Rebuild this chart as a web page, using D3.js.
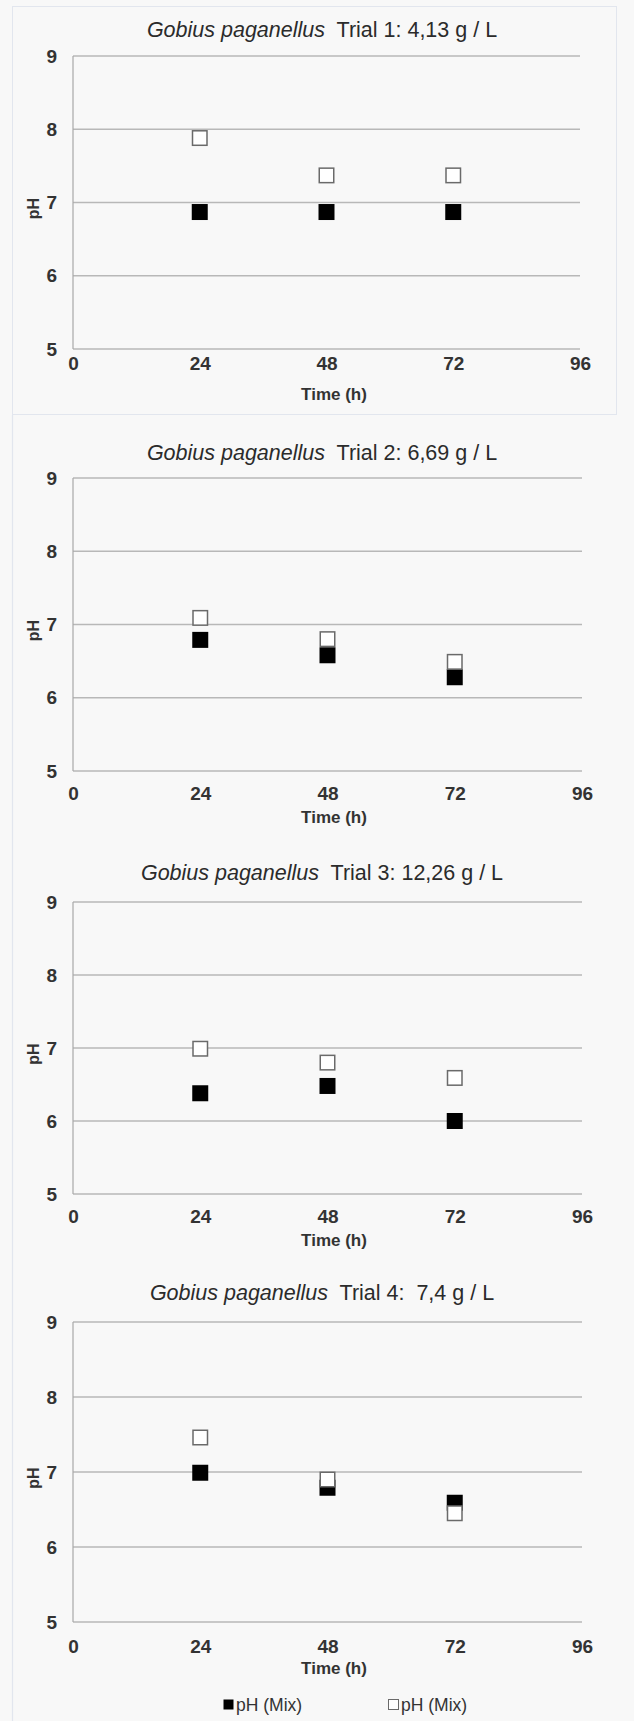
<!DOCTYPE html>
<html>
<head>
<meta charset="utf-8">
<script src="https://cdn.jsdelivr.net/npm/d3@7/dist/d3.min.js"></script>
<style>
  html, body { margin: 0; padding: 0; background: #f8f8f8; }
  svg { display: block; }
  text { font-family: "Liberation Sans", Arial, sans-serif; white-space: pre; }
</style>
</head>
<body>
<svg id="chart" width="634" height="1721"></svg>
<script>
// Sampling times (h) and axis ticks
const hours = [24, 48, 72];
const xTicks = [0, 24, 48, 72, 96];
const yTicks = [5, 6, 7, 8, 9];

// Panel titles (species name in italics, then trial / concentration)
const species = "Gobius paganellus";
const trialLabels = [
  "Trial 1: 4,13 g / L",
  "Trial 2: 6,69 g / L",
  "Trial 3: 12,26 g / L",
  "Trial 4:  7,4 g / L"
];

// pH readings, filled-square series
const phFilled1 = [6.87, 6.87, 6.87];
const phFilled2 = [6.79, 6.58, 6.28];
const phFilled3 = [6.38, 6.48, 6.0];
const phFilled4 = [6.99, 6.79, 6.59];

// pH readings, open-square series
const phOpen1 = [7.88, 7.37, 7.37];
const phOpen2 = [7.09, 6.8, 6.49];
const phOpen3 = [6.99, 6.8, 6.59];
const phOpen4 = [7.46, 6.9, 6.45];

const legendLabels = ["pH (Mix)", "pH (Mix)"];

const filledSeries = [phFilled1, phFilled2, phFilled3, phFilled4];
const openSeries = [phOpen1, phOpen2, phOpen3, phOpen4];

// Vertical placement of each stacked panel
const panels = [
  { top: 56,   bottom: 349,  left: 73, right: 580, titleY: 36.5, tickY: 371, timeY: 400 },
  { top: 478,  bottom: 771,  left: 73, right: 582, titleY: 460,  tickY: 801, timeY: 823 },
  { top: 902,  bottom: 1194, left: 73, right: 582, titleY: 880,  tickY: 1224, timeY: 1246 },
  { top: 1322, bottom: 1622, left: 73, right: 582, titleY: 1300, tickY: 1654, timeY: 1674 }
];

const svg = d3.select("#chart");
svg.append("rect").attr("width", 634).attr("height", 1721).attr("fill", "#f8f8f8");

// faint frame lines of the pasted chart blocks
svg.append("rect").attr("x", 12.5).attr("y", 6.5).attr("width", 604).attr("height", 408)
  .attr("fill", "none").attr("stroke", "#e2e6ee").attr("stroke-width", 1);
svg.append("line").attr("x1", 12.5).attr("x2", 12.5).attr("y1", 415).attr("y2", 1721)
  .attr("stroke", "#e2e6ee").attr("stroke-width", 1.2);

const SQ = 16;

panels.forEach((p, i) => {
  const x = d3.scaleLinear().domain([0, 96]).range([p.left, p.right]);
  const y = d3.scaleLinear().domain([5, 9]).range([p.bottom, p.top]);
  const g = svg.append("g");

  // title
  const title = g.append("text")
    .attr("x", 322).attr("y", p.titleY)
    .attr("text-anchor", "middle")
    .attr("xml:space", "preserve")
    .attr("font-size", 21.5)
    .attr("fill", "#2b2b2b");
  title.append("tspan").attr("font-style", "italic").text(species);
  title.append("tspan").text("  " + trialLabels[i]);

  // horizontal gridlines
  g.selectAll("line.grid").data(yTicks).join("line")
    .attr("x1", x(0)).attr("x2", x(96))
    .attr("y1", d => y(d)).attr("y2", d => y(d))
    .attr("stroke", "#b8b8b8").attr("stroke-width", 1.4);

  // vertical axis line
  g.append("line")
    .attr("x1", x(0)).attr("x2", x(0))
    .attr("y1", y(9)).attr("y2", y(5))
    .attr("stroke", "#a8a8a8").attr("stroke-width", 1.2);

  // y tick labels
  const yAxis = d3.axisLeft(y).tickValues(yTicks).tickSize(0).tickPadding(0).tickFormat(d3.format("d"));
  const ya = g.append("g").attr("transform", `translate(${x(0) - 16},0)`).call(yAxis);
  ya.select(".domain").remove();
  ya.selectAll("text")
    .attr("font-family", "Liberation Sans, Arial, sans-serif")
    .attr("font-size", 19).attr("font-weight", "bold").attr("fill", "#333");

  // x tick labels
  const xAxis = d3.axisBottom(x).tickValues(xTicks).tickSize(0).tickPadding(0).tickFormat(d3.format("d"));
  const xa = g.append("g").attr("transform", `translate(0,${p.tickY - 15})`).call(xAxis);
  xa.select(".domain").remove();
  xa.selectAll("text")
    .attr("font-family", "Liberation Sans, Arial, sans-serif")
    .attr("font-size", 19).attr("font-weight", "bold").attr("fill", "#333");

  // axis titles
  g.append("text")
    .attr("x", 334).attr("y", p.timeY)
    .attr("text-anchor", "middle")
    .attr("font-size", 17).attr("font-weight", "bold").attr("fill", "#333")
    .text("Time (h)");
  g.append("text")
    .attr("transform", `translate(${39},${(y(7) + 6)}) rotate(-90)`)
    .attr("text-anchor", "middle")
    .attr("font-size", 16).attr("font-weight", "bold").attr("fill", "#333")
    .text("pH");

  // filled squares
  g.selectAll("rect.filled").data(hours.map((h, k) => ({ h, v: filledSeries[i][k] }))).join("rect")
    .attr("class", "filled")
    .attr("x", d => x(d.h) - SQ / 2).attr("y", d => y(d.v) - SQ / 2)
    .attr("width", SQ).attr("height", SQ)
    .attr("fill", "#000");

  // open squares
  g.selectAll("rect.open").data(hours.map((h, k) => ({ h, v: openSeries[i][k] }))).join("rect")
    .attr("class", "open")
    .attr("x", d => x(d.h) - SQ / 2 + 0.75).attr("y", d => y(d.v) - SQ / 2 + 0.75)
    .attr("width", SQ - 1.5).attr("height", SQ - 1.5)
    .attr("fill", "#fff").attr("stroke", "#6a6a6a").attr("stroke-width", 1.5);
});

// legend
const legend = svg.append("g");
const legendItems = [
  { x: 223, fill: "#000", stroke: "none", label: legendLabels[0] },
  { x: 388, fill: "#fff", stroke: "#6a6a6a", label: legendLabels[1] }
];
legendItems.forEach(it => {
  legend.append("rect")
    .attr("x", it.x + 0.5).attr("y", 1699.5).attr("width", 10).attr("height", 10)
    .attr("fill", it.fill).attr("stroke", it.stroke).attr("stroke-width", 1);
  legend.append("text")
    .attr("x", it.x + 13).attr("y", 1711)
    .attr("font-size", 17.5).attr("fill", "#333")
    .text(it.label);
});
</script>
</body>
</html>
